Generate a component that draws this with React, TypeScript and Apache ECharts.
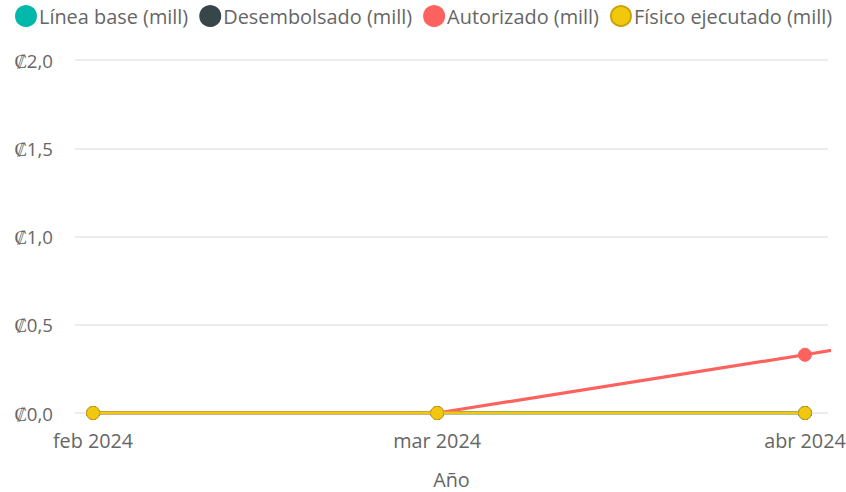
import React, { useEffect, useRef } from "react";
import * as echarts from "echarts";

const fechas = ["2024-02-01", "2024-03-01", "2024-04-01", "2024-05-01"];
const etiquetasMes = ["feb 2024", "mar 2024", "abr 2024"];
const lineaBase = [0, 0, 0];
const desembolsado = [0, 0, 0];
const autorizado = [0, 0, 0.33, 0.67];
const fisicoEjecutado = [0, 0, 0];
const yTicks = [0, 0.5, 1, 1.5, 2];

// day number since epoch (UTC)
const dia = (s: string) => {
  const [y, m, d] = s.split("-").map(Number);
  return Date.UTC(y, m - 1, d) / 86400000;
};

export default function App() {
  const ref = useRef<HTMLDivElement>(null);
  useEffect(() => {
    if (!ref.current) return;
    const chart = echarts.init(ref.current, undefined, { renderer: "svg" });
    const font = "Open Sans";
    const fsLegend = 19.9;
    const fsX = 19.8;
    const fsY = 18.67;
    const labelDias = fechas.slice(0, 3).map(dia);
    const mk = (name: string, color: string, vals: number[], border: string, z: number) => ({
      name,
      type: "line",
      data: vals.map((v, i) => [dia(fechas[i]), v]),
      symbol: "circle",
      symbolSize: 13,
      showSymbol: true,
      clip: true,
      z,
      lineStyle: { color, width: 3.2 },
      itemStyle: { color, borderColor: border, borderWidth: 1 },
      emphasis: { disabled: true },
    });
    chart.setOption({
      animation: false,
      textStyle: { fontFamily: font },
      legend: {
        top: 5,
        left: 15,
        padding: 0,
        icon: "circle",
        itemWidth: 20,
        itemHeight: 20,
        itemGap: 11,
        textStyle: { fontSize: fsLegend, color: "#666666", fontFamily: font, padding: [0, 0, 0, -2] },
        data: ["Línea base (mill)", "Desembolsado (mill)", "Autorizado (mill)", "Físico ejecutado (mill)"],
      },
      grid: { left: 75, right: 18, top: 60, bottom: 79, containLabel: false, outerBoundsMode: "none" },
      xAxis: {
        type: "value",
        min: labelDias[0] - 1.52,
        max: labelDias[2] + 1.94,
        name: "Año",
        nameLocation: "middle",
        nameGap: 56,
        nameTextStyle: { fontSize: fsX, color: "#666666", fontFamily: font },
        axisLine: { show: false },
        axisTick: { show: false, customValues: labelDias },
        splitLine: { show: false },
        axisLabel: {
          customValues: labelDias,
          fontSize: fsX,
          color: "#666666",
          margin: 17,
          hideOverlap: false,
          formatter: (v: number) => {
            const i = labelDias.indexOf(v);
            return i >= 0 ? etiquetasMes[i] : "";
          },
        },
      },
      yAxis: {
        type: "value",
        min: yTicks[0],
        max: yTicks[yTicks.length - 1],
        interval: 0.5,
        axisLine: { show: false },
        axisTick: { show: false },
        splitLine: { lineStyle: { color: "#e6e6e6", width: 1.5 } },
        axisLabel: {
          fontSize: fsY,
          color: "#666666",
          margin: 22,
          formatter: (v: number) => "₡" + v.toFixed(1).replace(".", ","),
        },
      },
      series: [
        mk("Línea base (mill)", "#01B8AA", lineaBase, "#01B8AA", 2),
        mk("Desembolsado (mill)", "#374649", desembolsado, "#374649", 3),
        mk("Autorizado (mill)", "#FD625E", autorizado, "#FD625E", 4),
        mk("Físico ejecutado (mill)", "#F2C80F", fisicoEjecutado, "#C9A30C", 5),
      ],
    });
    return () => chart.dispose();
  }, []);
  return <div ref={ref} style={{ position: "absolute", left: 0, top: 0, width: 846, height: 492 }} />;
}
